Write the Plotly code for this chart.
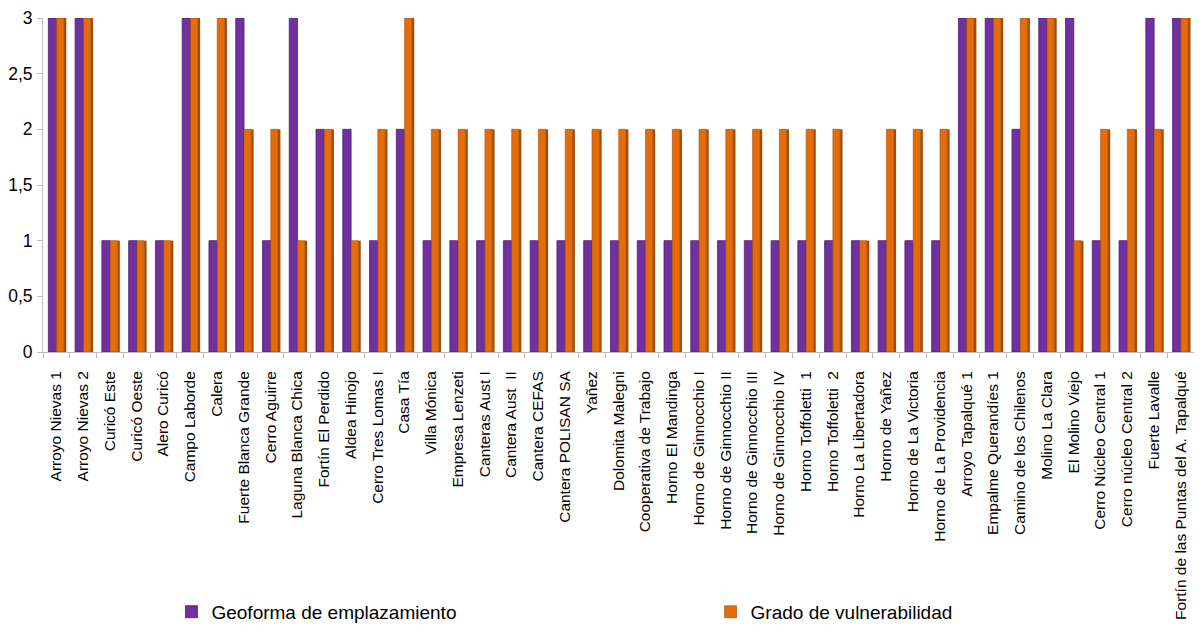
import plotly.graph_objects as go

categories = [
    "Arroyo Nievas 1", "Arroyo Nievas 2", "Curicó Este", "Curicó Oeste", "Alero Curicó",
    "Campo Laborde", "Calera", "Fuerte Blanca Grande", "Cerro Aguirre", "Laguna Blanca Chica",
    "Fortín El Perdido", "Aldea Hinojo", "Cerro Tres Lomas I", "Casa Tía", "Villa Mónica",
    "Empresa Lenzeti", "Canteras Aust I", "Cantera Aust  II", "Cantera CEFAS", "Cantera POLISAN SA",
    "Yañez", "Dolomita Malegni", "Cooperativa de Trabajo", "Horno El Mandinga", "Horno de Ginnocchio I",
    "Horno de Ginnocchio II", "Horno de Ginnocchio III", "Horno de Ginnocchio IV", "Horno Toffoletti  1",
    "Horno Toffoletti  2", "Horno La Libertadora", "Horno de Yañez", "Horno de La Victoria",
    "Horno de La Providencia", "Arroyo Tapalqué 1", "Empalme Querandíes 1", "Camino de los Chilenos",
    "Molino La Clara", "El Molino Viejo", "Cerro Núcleo Central 1", "Cerro núcleo Central 2",
    "Fuerte Lavalle", "Fortín de las Puntas del A. Tapalqué",
]

geoforma = [3, 3, 1, 1, 1, 3, 1, 3, 1, 3, 2, 2, 1, 2, 1, 1, 1, 1, 1, 1, 1, 1, 1, 1, 1, 1, 1, 1, 1,
            1, 1, 1, 1, 1, 3, 3, 2, 3, 3, 1, 1, 3, 3]
vulnerabilidad = [3, 3, 1, 1, 1, 3, 3, 2, 2, 1, 2, 1, 2, 3, 2, 2, 2, 2, 2, 2, 2, 2, 2, 2, 2, 2, 2, 2, 2,
                  2, 1, 2, 2, 2, 3, 3, 3, 3, 1, 2, 2, 2, 3]

series_names = ["Geoforma de emplazamiento", "Grado de vulnerabilidad"]
y_ticks = [0, 0.5, 1, 1.5, 2, 2.5, 3]

PURPLE, PURPLE_DARK = "#7030A0", "#4E1F74"
ORANGE, ORANGE_DARK = "#E46C0A", "#A34C04"

fig = go.Figure()
# purple series (front face)
fig.add_trace(go.Bar(
    x=categories, y=geoforma, name=series_names[0], legend="legend",
    offset=-0.30, width=0.31,
    marker=dict(color=PURPLE, line=dict(color=PURPLE_DARK, width=0.8)),
))
# orange series (front face)
fig.add_trace(go.Bar(
    x=categories, y=vulnerabilidad, name=series_names[1], legend="legend2",
    offset=0.01, width=0.27,
    marker=dict(color=ORANGE, line=dict(color=ORANGE_DARK, width=0.6)),
))
# orange series (shaded side face, 3D look)
fig.add_trace(go.Bar(
    x=categories, y=vulnerabilidad, showlegend=False, hoverinfo="skip",
    offset=0.28, width=0.09,
    marker=dict(color=ORANGE_DARK, line=dict(width=0)),
))

legend_common = dict(orientation="h", yanchor="bottom", y=-0.835,
                     font=dict(size=19), bgcolor="rgba(0,0,0,0)")

# the page body adds an 8px margin on every side, so the figure is sized
# to fit the 1202x641 window exactly
fig.update_layout(
    width=1186, height=625,
    margin=dict(l=35, r=0, t=10, b=281),
    paper_bgcolor="white", plot_bgcolor="white",
    barmode="overlay",
    separators=", ",
    font=dict(family="Liberation Sans, Arial, sans-serif", color="#000000"),
    showlegend=True,
    legend=dict(x=0.1116, xanchor="left", **legend_common),
    legend2=dict(x=0.580, xanchor="left", **legend_common),
)
fig.update_xaxes(
    type="category", tickangle=-90, tickfont=dict(size=15.5),
    showline=True, linecolor="#BFBFBF", linewidth=1,
    ticks="outside", tickson="boundaries", ticklen=5, tickcolor="#BFBFBF",
    ticklabelstandoff=12, ticklabeloverflow="allow",
    showgrid=False, automargin=False,
)
fig.update_yaxes(
    range=[0, 3], tickvals=y_ticks, tickfont=dict(size=17.5),
    showline=True, linecolor="#BFBFBF", linewidth=1,
    ticks="outside", ticklen=5, tickcolor="#BFBFBF",
    ticklabelstandoff=1, ticklabeloverflow="allow",
    showgrid=False, zeroline=False, automargin=False,
)

fig.write_html("out.html")
